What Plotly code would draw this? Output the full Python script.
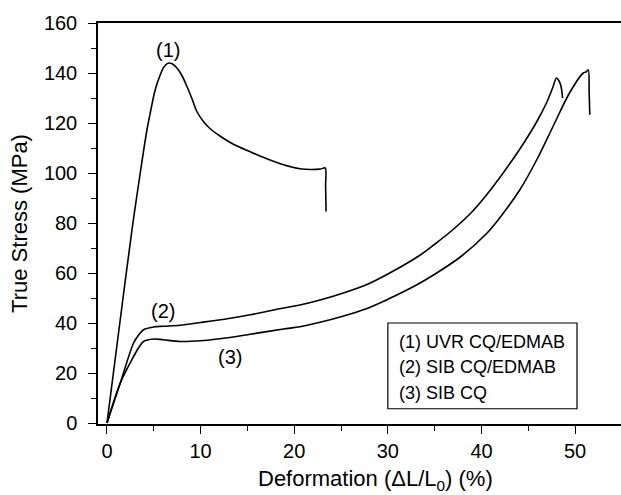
import plotly.graph_objects as go

# Tensile curves: deformation (%) vs true stress (MPa)
uvr_cq_edmab_x = [0, 1.3, 2.67, 3.55, 4.27, 4.62, 5.15, 5.69, 6.1, 6.58, 7.0, 7.47, 8.0, 8.54,
                  9.1, 9.6, 10.3, 11.0, 12.1, 13.5, 15.3, 17.0, 18.85, 20.6, 21.8, 22.8, 23.3,
                  23.35, 23.4]
uvr_cq_edmab_y = [0, 38, 77.3, 100, 117.3, 124, 133.3, 139.3, 142.5, 144, 143.6, 142, 139,
                  134.6, 129.5, 124.6, 120.6, 117.8, 114.7, 111.5, 108.5, 105.8, 103.3, 101.7,
                  101.4, 101.6, 102, 95, 84.6]

sib_cq_edmab_x = [0, 1.42, 2.84, 3.4, 3.9, 4.97, 6.0, 7.8, 10, 13, 15.3, 18.85, 20.6, 22.76, 25,
                  27.7, 30, 33.3, 35, 37, 39, 40.55, 42, 44.1, 45.9, 47.0, 47.65, 48.0, 48.3,
                  48.5, 48.6, 48.66]
sib_cq_edmab_y = [0, 16, 32, 35.3, 37.3, 38.4, 38.7, 39.1, 40.2, 41.8, 43.3, 46.0, 47.2, 49.2,
                  51.7, 55.3, 59.6, 66.8, 71.5, 77.5, 84.5, 91.3, 98.4, 109.6, 120.5, 128.5,
                  134.6, 138, 136.7, 134.6, 132, 130]

sib_cq_x = [0, 1.42, 2.84, 3.4, 3.9, 4.97, 6.0, 7.8, 10, 13.5, 15.3, 18.85, 20.6, 22.76, 25,
            27.7, 30, 33.1, 35, 37.7, 40.55, 42, 44.1, 46, 47.65, 49.4, 50.86, 51.2, 51.4,
            51.5, 51.57]
sib_cq_y = [0, 16, 26.6, 30.2, 32.6, 33.6, 33.3, 32.6, 32.9, 34.4, 35.5, 37.6, 38.5, 40.3, 42.5,
            45.7, 49.5, 55.3, 59.5, 66.3, 75.8, 82.3, 93.3, 106, 118.7, 132, 140, 140.5, 141.3,
            132, 123.3]

curve_tags = ["(1)", "(2)", "(3)"]
tag_x = [6.5, 5.97, 13.1]
tag_y = [149.3, 45, 26.4]

legend_lines = ["(1) UVR CQ/EDMAB", "(2) SIB CQ/EDMAB", "(3) SIB CQ"]
legend_y = [32.6, 22.6, 12.0]

x_ticks = [0, 10, 20, 30, 40, 50]
y_ticks = [0, 20, 40, 60, 80, 100, 120, 140, 160]

FONT = "Liberation Sans, Arial, Helvetica, sans-serif"
FS = 20
TITLE_FS = 22

fig = go.Figure()
for xs, ys in [(uvr_cq_edmab_x, uvr_cq_edmab_y),
               (sib_cq_edmab_x, sib_cq_edmab_y),
               (sib_cq_x, sib_cq_y)]:
    fig.add_trace(go.Scatter(x=xs, y=ys, mode="lines",
                             line=dict(color="black", width=1.6, shape="spline",
                                       smoothing=0.9),
                             showlegend=False, hoverinfo="skip"))

annotations = []
for t, x, y in zip(curve_tags, tag_x, tag_y):
    annotations.append(dict(x=x, y=y, xref="x", yref="y", text=t, showarrow=False,
                            font=dict(size=FS, color="black", family=FONT)))
for t, y in zip(legend_lines, legend_y):
    annotations.append(dict(x=31.0, y=y, xref="x", yref="y", text=t, showarrow=False,
                            xanchor="left", yanchor="middle",
                            font=dict(size=FS - 2, color="black", family=FONT)))
# x-axis title
annotations.append(dict(x=0.5315, y=-0.14, xref="paper", yref="paper",
                        text="Deformation (ΔL/L<sub>0</sub>) (%)", showarrow=False,
                        xanchor="center", yanchor="middle",
                        font=dict(size=TITLE_FS, color="black", family=FONT)))

fig.update_layout(
    width=621, height=495,
    margin=dict(l=98, r=0, t=23, b=71),
    paper_bgcolor="white", plot_bgcolor="white",
    font=dict(family=FONT, size=FS, color="black"),
    annotations=annotations,
    shapes=[dict(type="rect", xref="x", yref="y", x0=30.0, x1=50.2, y0=5.7, y1=40.0,
                 line=dict(color="black", width=1.2), fillcolor="white", layer="below")],
    xaxis=dict(
        range=[-0.96, 54.9], tickvals=x_ticks, ticks="outside", ticklen=8, tickwidth=1.3,
        tickcolor="black", showline=True, linecolor="black", linewidth=1.5, mirror=True,
        showgrid=False, zeroline=False,
        minor=dict(dtick=5, tick0=0, ticks="outside", ticklen=5, tickwidth=1.3,
                   tickcolor="black", showgrid=False),
        tickfont=dict(size=FS),
    ),
    yaxis=dict(
        range=[-0.4, 160], tickvals=y_ticks, ticks="outside", ticklen=8, tickwidth=1.3,
        tickcolor="black", showline=True, linecolor="black", linewidth=1.5, mirror=False,
        showgrid=False, zeroline=False, ticklabelstandoff=7,
        minor=dict(dtick=10, tick0=0, ticks="outside", ticklen=5, tickwidth=1.3,
                   tickcolor="black", showgrid=False),
        title=dict(text="True Stress (MPa)", standoff=10, font=dict(size=TITLE_FS)),
        tickfont=dict(size=FS),
    ),
)

fig.write_html("out.html")
